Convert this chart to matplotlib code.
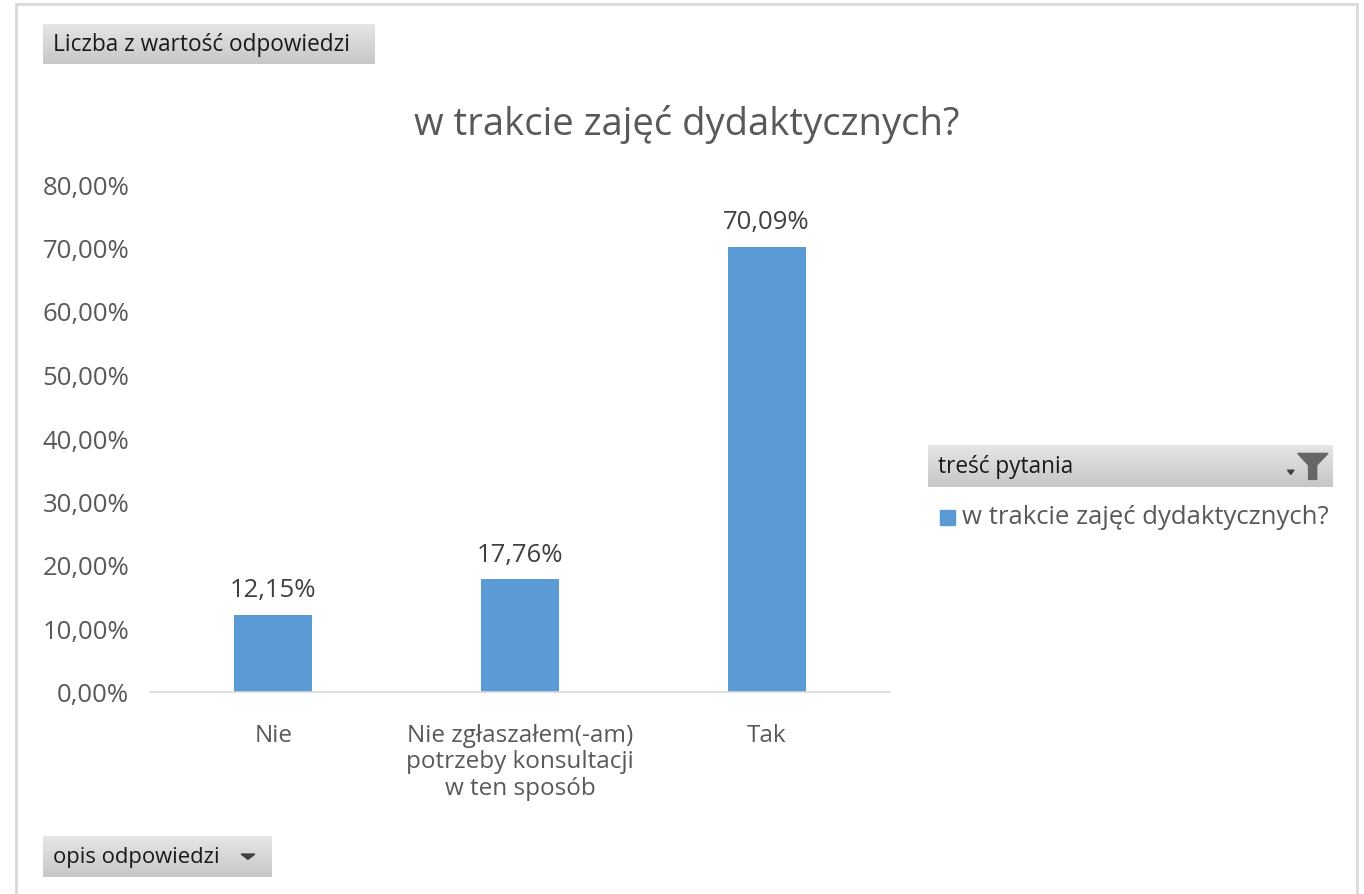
import numpy as np
import matplotlib.pyplot as plt
from matplotlib.patches import Rectangle, Polygon

plt.rcParams['font.family'] = ['Open Sans', 'DejaVu Sans']

categories = ["Nie", "Nie zgłaszałem(-am)\npotrzeby konsultacji\nw ten sposób", "Tak"]
values = [12.15, 17.76, 70.09]
yticks = [0, 10, 20, 30, 40, 50, 60, 70, 80]
title = "w trakcie zajęć dydaktycznych?"
bar_color = "#5b9bd5"


def pct(v):
    return f"{v:.2f}".replace(".", ",") + "%"


def button(fig, x0, y0, x1, y1, text, fontsize=16):
    # pixel coords (top-left origin) -> figure fraction, grey gradient fill
    W, H = 1364, 895
    ax = fig.add_axes([x0 / W, 1 - y1 / H, (x1 - x0) / W, (y1 - y0) / H])
    grad = np.linspace(0.90, 0.78, 50)[:, None]
    ax.imshow(np.dstack([grad, grad, grad]), aspect="auto", extent=[0, 1, 0, 1])
    ax.set_xlim(0, 1)
    ax.set_ylim(0, 1)
    ax.axis("off")
    ax.text(10 / (x1 - x0), 0.5, text, fontsize=fontsize, color="#1a1a1a",
            va="center", ha="left")
    return ax


fig = plt.figure(figsize=(13.64, 8.95), dpi=100)

# outer frame
fig.patches.append(Rectangle((16 / 1364, -0.01), (1357 - 16) / 1364, 1 - 5 / 895 + 0.01,
                             transform=fig.transFigure, fill=False,
                             edgecolor="#d9d9d9", linewidth=2))

ax = fig.add_axes([150 / 1364, 1 - 693 / 895, (890 - 150) / 1364, (693 - 185) / 895])
x = np.arange(len(categories))
bars = ax.bar(x, values, width=0.315, color=bar_color, zorder=2)
for b, v in zip(bars, values):
    ax.text(b.get_x() + b.get_width() / 2, v + 2.0, pct(v), ha="center", va="bottom",
            fontsize=18.5, color="#404040")

ax.set_xlim(-0.5, 2.5)
ax.set_ylim(0, 80)
ax.set_yticks(yticks)
ax.set_yticklabels([pct(t) for t in yticks], fontsize=18.5, color="#595959")
ax.set_xticks(x)
ax.set_xticklabels(categories, fontsize=17.5, color="#595959", linespacing=1.15)
ax.tick_params(length=0)
ax.tick_params(axis="x", pad=22)
ax.tick_params(axis="y", pad=15)
for s in ["top", "right", "left"]:
    ax.spines[s].set_visible(False)
ax.spines["bottom"].set_color("#d9d9d9")
ax.spines["bottom"].set_linewidth(1.2)

fig.text(687 / 1364, 1 - 124 / 895, title, fontsize=27.5, color="#595959",
         ha="center", va="center")

button(fig, 43, 25, 375, 65, "Liczba z wartość odpowiedzi", fontsize=16.3)
bax = button(fig, 43, 837, 272, 878, "opis odpowiedzi", fontsize=15.8)
bax.add_patch(Polygon([[0.865, 0.56], [0.925, 0.56], [0.895, 0.43]], closed=True,
                      color="#404040"))

lax = button(fig, 928, 446, 1332, 488, "treść pytania", fontsize=16.3)
lax.add_patch(Polygon([[0.915, 0.80], [0.99, 0.80], [0.962, 0.52], [0.962, 0.18],
                       [0.942, 0.18], [0.942, 0.52]], closed=True, color="#666666"))
lax.add_patch(Polygon([[0.89, 0.40], [0.906, 0.40], [0.898, 0.30]], closed=True,
                      color="#404040"))

fig.patches.append(Rectangle((940 / 1364, 1 - 526 / 895), 15 / 1364, 15 / 895,
                             transform=fig.transFigure, color=bar_color))
fig.text(962 / 1364, 1 - 518 / 895, title, fontsize=18.5, color="#595959",
         ha="left", va="center")

fig.savefig("out.png", dpi=100, facecolor="white")
